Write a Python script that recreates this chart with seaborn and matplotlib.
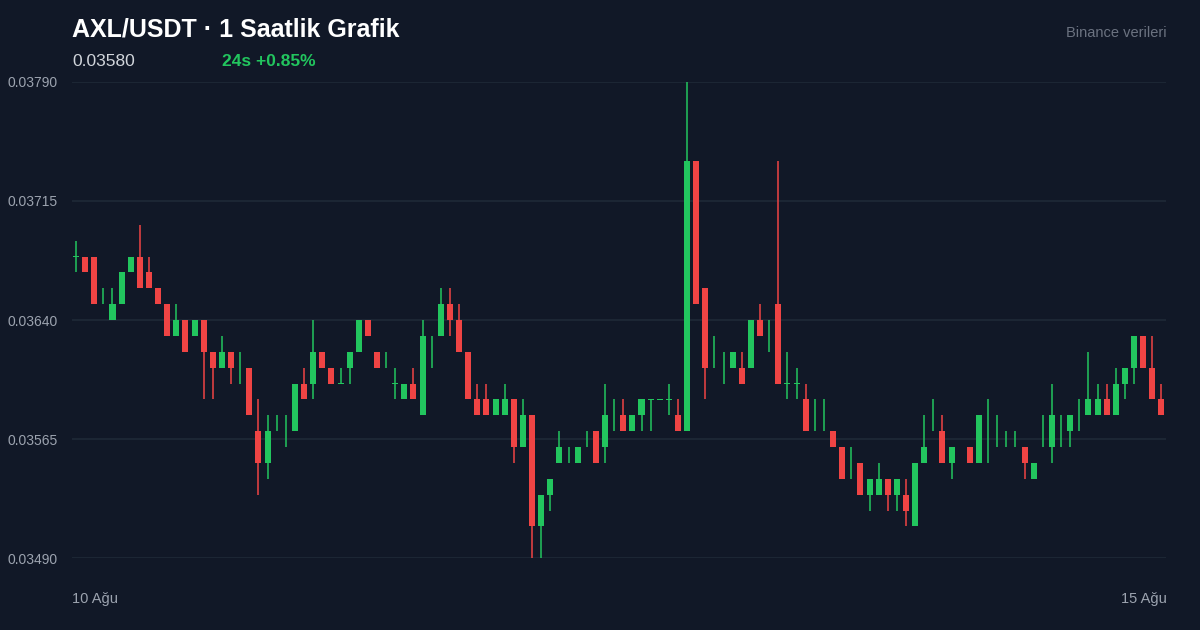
import numpy as np
import matplotlib
matplotlib.use("Agg")
import matplotlib.pyplot as plt
import seaborn as sns

# hourly AXL/USDT candles, prices in units of 0.0001
opens = [368, 368, 368, 365, 364, 365, 367, 368, 367, 366,
         365, 363, 364, 363, 364, 362, 361, 362, 361, 361,
         357, 355, 358, 358, 357, 360, 360, 362, 361, 360,
         361, 362, 364, 362, 361, 360, 359, 360, 358, 363,
         363, 365, 364, 362, 359, 359, 358, 358, 359, 356,
         358, 351, 353, 355, 355, 355, 356, 357, 356, 358,
         358, 357, 358, 359, 359, 359, 358, 357, 374, 366,
         361, 361, 361, 361, 361, 364, 364, 365, 360, 360,
         359, 358, 358, 357, 356, 354, 355, 353, 353, 354,
         353, 353, 351, 355, 357, 357, 355, 356, 356, 355,
         357, 357, 356, 356, 356, 354, 356, 356, 358, 357,
         358, 358, 358, 359, 358, 360, 361, 363, 361, 359]
closes = [368, 367, 365, 365, 365, 367, 368, 366, 366, 365,
          363, 364, 362, 364, 362, 361, 362, 361, 361, 358,
          355, 357, 358, 358, 360, 359, 362, 361, 360, 360,
          362, 364, 363, 361, 361, 360, 360, 359, 363, 363,
          365, 364, 362, 359, 358, 358, 359, 359, 356, 358,
          351, 353, 354, 356, 355, 356, 356, 355, 358, 358,
          357, 358, 359, 359, 359, 359, 357, 374, 365, 361,
          361, 361, 362, 360, 364, 363, 364, 360, 360, 360,
          357, 358, 358, 356, 354, 354, 353, 354, 354, 353,
          354, 352, 355, 356, 357, 355, 356, 356, 355, 358,
          357, 357, 356, 356, 355, 355, 356, 358, 358, 358,
          358, 359, 359, 358, 360, 361, 363, 361, 359, 358]
highs = [369, 368, 368, 366, 366, 367, 368, 370, 368, 366,
         365, 365, 364, 364, 364, 362, 363, 362, 362, 361,
         359, 358, 358, 358, 360, 361, 364, 362, 361, 361,
         362, 364, 364, 362, 362, 361, 360, 361, 364, 363,
         366, 366, 365, 362, 360, 360, 359, 360, 359, 359,
         358, 353, 354, 357, 356, 356, 357, 357, 360, 359,
         359, 358, 359, 359, 359, 360, 359, 379, 374, 366,
         363, 362, 362, 362, 364, 365, 364, 374, 362, 361,
         360, 359, 359, 357, 356, 356, 355, 354, 355, 354,
         354, 354, 355, 358, 359, 358, 356, 356, 356, 358,
         359, 358, 357, 357, 356, 355, 358, 360, 358, 358,
         359, 362, 360, 360, 361, 361, 363, 363, 363, 360]
lows = [367, 367, 365, 365, 364, 365, 367, 366, 366, 365,
        363, 363, 362, 363, 359, 359, 361, 360, 360, 358,
        353, 354, 357, 356, 357, 359, 359, 361, 360, 360,
        360, 362, 363, 361, 361, 359, 359, 359, 358, 361,
        363, 363, 362, 359, 358, 358, 358, 358, 355, 356,
        349, 349, 352, 355, 355, 355, 356, 355, 355, 357,
        357, 357, 357, 357, 359, 358, 357, 357, 365, 359,
        361, 360, 361, 360, 361, 363, 362, 360, 359, 359,
        357, 357, 357, 356, 354, 354, 353, 352, 353, 352,
        352, 351, 351, 355, 357, 355, 354, 356, 355, 355,
        355, 356, 356, 356, 354, 354, 356, 355, 356, 356,
        357, 358, 358, 358, 358, 359, 360, 361, 359, 358]

y_ticks = [0.03490, 0.03565, 0.03640, 0.03715, 0.03790]

BG = "#111827"
GREEN = "#22c55e"
RED = "#ef4444"
GRID = "#1f2a37"
MUTED = "#9ca3af"

sns.set_style("dark")
plt.rcParams["font.family"] = ["Liberation Sans", "DejaVu Sans"]

o = np.array(opens) / 1e4
c = np.array(closes) / 1e4
h = np.array(highs) / 1e4
l = np.array(lows) / 1e4
x = np.arange(len(o))
up = c >= o
colors = np.where(up, GREEN, RED)

fig = plt.figure(figsize=(12, 6.3), dpi=100, facecolor=BG)
ax = fig.add_axes([0.06, 0.114, 0.912, 0.756])
ax.set_facecolor(BG)

ax.vlines(x, l, h, colors=colors, linewidth=1.1, zorder=2)
body_low = np.minimum(o, c)
body_h = np.maximum(np.abs(c - o), 0.0000012)
ax.bar(x, body_h, bottom=body_low - np.where(c == o, 0.0000006, 0), width=0.66,
       color=colors, linewidth=0, zorder=3)

ax.set_xlim(-0.44, 119.55)
ax.set_ylim(0.03490, 0.03790)
ax.set_yticks(y_ticks)
ax.set_yticklabels([f"{v:.5f}" for v in y_ticks], color=MUTED, fontsize=10)
ax.tick_params(axis="y", length=0, pad=10)
ax.set_xticks([])
ax.grid(axis="y", color=GRID, linewidth=1.2)
ax.grid(axis="x", visible=False)
for s in ax.spines.values():
    s.set_visible(False)

fig.text(0.06, 0.953, "AXL/USDT · 1 Saatlik Grafik", color="white", fontsize=18,
         fontweight="bold", va="center", ha="left")
fig.text(0.06, 0.903, "0.03580", color="#d1d5db", fontsize=12.5, va="center", ha="left")
fig.text(0.185, 0.903, "24s +0.85%", color=GREEN, fontsize=12.5, fontweight="bold",
         va="center", ha="left")
fig.text(0.972, 0.948, "Binance verileri", color="#6b7280", fontsize=10.5,
         va="center", ha="right")
fig.text(0.06, 0.049, "10 Ağu", color=MUTED, fontsize=10.5, va="center", ha="left")
fig.text(0.972, 0.049, "15 Ağu", color=MUTED, fontsize=10.5, va="center", ha="right")

fig.savefig("out.png", dpi=100, facecolor=BG)
